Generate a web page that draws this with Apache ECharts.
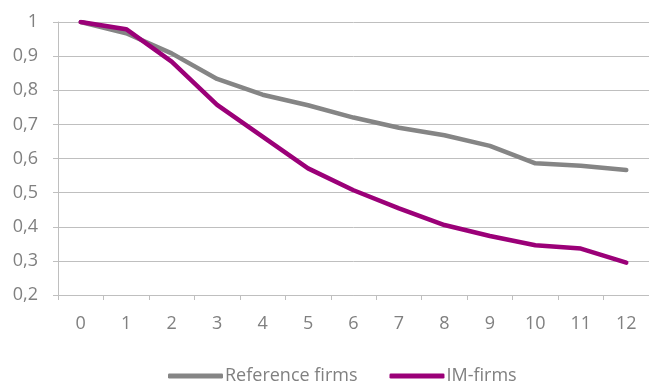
<!DOCTYPE html>
<html>
<head>
<meta charset="utf-8">
<script src="https://cdn.jsdelivr.net/npm/echarts@6/dist/echarts.min.js"></script>
<style>
  html, body { margin: 0; padding: 0; background: #ffffff; }
  #chart { width: 649px; height: 381px; }
</style>
</head>
<body>
<div id="chart"></div>
<script>
// Years after start
const categories = ['0', '1', '2', '3', '4', '5', '6', '7', '8', '9', '10', '11', '12'];

// Share of firms remaining
const referenceFirms = [1.0, 0.967, 0.908, 0.833, 0.787, 0.756, 0.72, 0.69, 0.668, 0.637, 0.586, 0.579, 0.566];
const imFirms = [1.0, 0.979, 0.884, 0.757, 0.664, 0.571, 0.507, 0.454, 0.405, 0.373, 0.346, 0.336, 0.295];

// Value-axis range and labels (decimal comma)
const yMin = 0.2;
const yMax = 1;
const yStep = 0.1;
const yTickLabels = ['0,2', '0,3', '0,4', '0,5', '0,6', '0,7', '0,8', '0,9', '1'];

const seriesNames = ['Reference firms', 'IM-firms'];

const FONT = '"Open Sans", sans-serif';
const TEXT = '#808080';
const RULE = '#BFBFBF';

const chart = echarts.init(document.getElementById('chart'), null, { renderer: 'canvas' });

chart.setOption({
  animation: false,
  backgroundColor: '#ffffff',
  grid: { left: 58, right: 0, top: 22, bottom: 86, containLabel: false },
  legend: {
    left: 163,
    top: 362,
    itemWidth: 55,
    itemHeight: 5,
    itemGap: 32,
    icon: 'roundRect',
    textStyle: { fontFamily: FONT, fontSize: 18, color: TEXT, padding: [0, 0, 0, -3] },
    data: seriesNames
  },
  xAxis: {
    type: 'category',
    data: categories,
    boundaryGap: true,
    axisLine: { lineStyle: { color: RULE, width: 1 } },
    axisTick: { show: true, length: 5, lineStyle: { color: RULE } },
    axisLabel: { fontFamily: FONT, fontSize: 18, color: TEXT, margin: 20 },
    splitLine: { show: false }
  },
  yAxis: {
    type: 'value',
    min: yMin,
    max: yMax,
    interval: yStep,
    axisLine: { show: true, lineStyle: { color: RULE, width: 1 } },
    axisTick: { show: true, length: 5, lineStyle: { color: RULE } },
    axisLabel: {
      fontFamily: FONT, fontSize: 18, color: TEXT, margin: 20,
      formatter: function (v) {
        const i = Math.round((v - yMin) / yStep);
        return yTickLabels[i] !== undefined ? yTickLabels[i] : '';
      }
    },
    splitLine: { show: true, lineStyle: { color: RULE, width: 1 } }
  },
  series: [
    {
      name: seriesNames[0],
      type: 'line',
      data: referenceFirms,
      symbol: 'none',
      color: '#858585',
      lineStyle: { color: '#858585', width: 4.5, cap: 'round', join: 'round' }
    },
    {
      name: seriesNames[1],
      type: 'line',
      data: imFirms,
      symbol: 'none',
      color: '#9B0078',
      lineStyle: { color: '#9B0078', width: 4.5, cap: 'round', join: 'round' }
    }
  ]
});
</script>
</body>
</html>
